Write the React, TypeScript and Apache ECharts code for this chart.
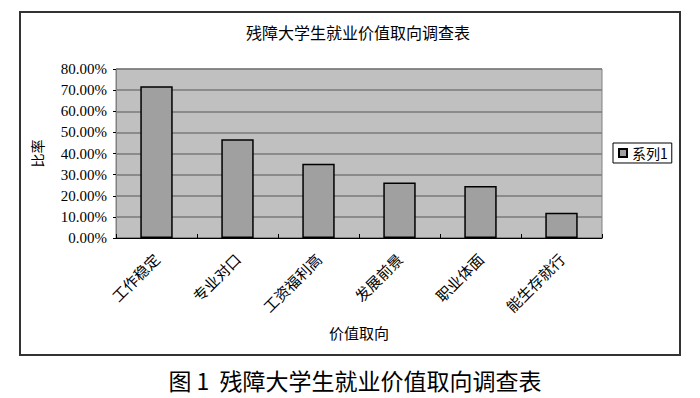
import React, { useEffect, useRef } from "react";
import * as echarts from "echarts";

const chartTitle = "残障大学生就业价值取向调查表";
const caption = "图 1  残障大学生就业价值取向调查表";
const categories = ["工作稳定", "专业对口", "工资福利高", "发展前景", "职业体面", "能生存就行"];
const seriesName = "系列1";
const values = [71.8, 46.7, 35.1, 26.3, 24.6, 11.9];
const yAxisName = "比率";
const xAxisName = "价值取向";

export default function App() {
  const ref = useRef<HTMLDivElement>(null);
  useEffect(() => {
    if (!ref.current) return;
    const chart = echarts.init(ref.current, null, { renderer: "svg" });
    const cjk = "'Noto Sans CJK SC', sans-serif";
    const serif = "'Liberation Serif', 'Noto Sans CJK SC', serif";
    chart.setOption({
      animation: false,
      backgroundColor: "#ffffff",
      grid: {
        left: 116,
        right: 98,
        top: 69,
        bottom: 160,
        show: true,
        backgroundColor: "#c0c0c0",
        borderColor: "#808080",
        borderWidth: 1,
      },
      legend: {
        left: 613,
        top: 143,
        orient: "vertical",
        borderColor: "#000",
        borderWidth: 1,
        padding: [3, 4, 3, 5],
        itemWidth: 8,
        itemHeight: 8,
        itemGap: 4,
        icon: "rect",
        textStyle: { fontFamily: cjk, fontSize: 14, color: "#000" },
        data: [seriesName],
      },
      xAxis: {
        type: "category",
        data: categories,
        name: xAxisName,
        nameLocation: "middle",
        nameGap: 87,
        nameTextStyle: { fontFamily: cjk, fontSize: 15, color: "#000" },
        axisLine: { show: true, lineStyle: { color: "#000", width: 1 } },
        axisTick: { show: true, inside: true, length: 4, lineStyle: { color: "#000" } },
        axisLabel: {
          rotate: 45,
          margin: 18,
          interval: 0,
          fontFamily: cjk,
          fontSize: 15,
          color: "#000",
        },
      },
      yAxis: {
        type: "value",
        min: 0,
        max: 80,
        interval: 10,
        name: yAxisName,
        nameLocation: "middle",
        nameGap: 72,
        nameRotate: 90,
        nameTextStyle: { fontFamily: cjk, fontSize: 14, color: "#000" },
        axisLine: { show: true, lineStyle: { color: "#808080", width: 1 } },
        axisTick: { show: true, length: 3, lineStyle: { color: "#000" } },
        axisLabel: {
          margin: 9,
          fontFamily: serif,
          fontSize: 15,
          color: "#000",
          formatter: (v: number) => v.toFixed(2) + "%",
        },
        splitLine: { show: true, lineStyle: { color: "#7a7a7a", width: 1.5 } },
      },
      series: [
        {
          name: seriesName,
          type: "bar",
          data: values,
          barWidth: "40%",
          itemStyle: { color: "#a0a0a0", borderColor: "#000", borderWidth: 1.5 },
        },
      ],
      graphic: [
        {
          type: "rect",
          shape: { x: 20, y: 12, width: 660, height: 343 },
          style: { fill: "none", stroke: "#333", lineWidth: 2 },
          silent: true,
        },
        {
          type: "text",
          x: 358,
          y: 32,
          style: {
            text: chartTitle,
            fontFamily: cjk,
            fontSize: 16,
            fill: "#000",
            textAlign: "center",
            textVerticalAlign: "middle",
          },
        },
        {
          type: "text",
          x: 355,
          y: 380,
          style: {
            text: caption,
            fontFamily: cjk,
            fontSize: 23,
            fill: "#000",
            textAlign: "center",
            textVerticalAlign: "middle",
          },
        },
      ],
    });
    return () => chart.dispose();
  }, []);
  return (
    <div
      ref={ref}
      style={{ position: "fixed", left: 0, top: 0, width: 700, height: 398 }}
    />
  );
}
